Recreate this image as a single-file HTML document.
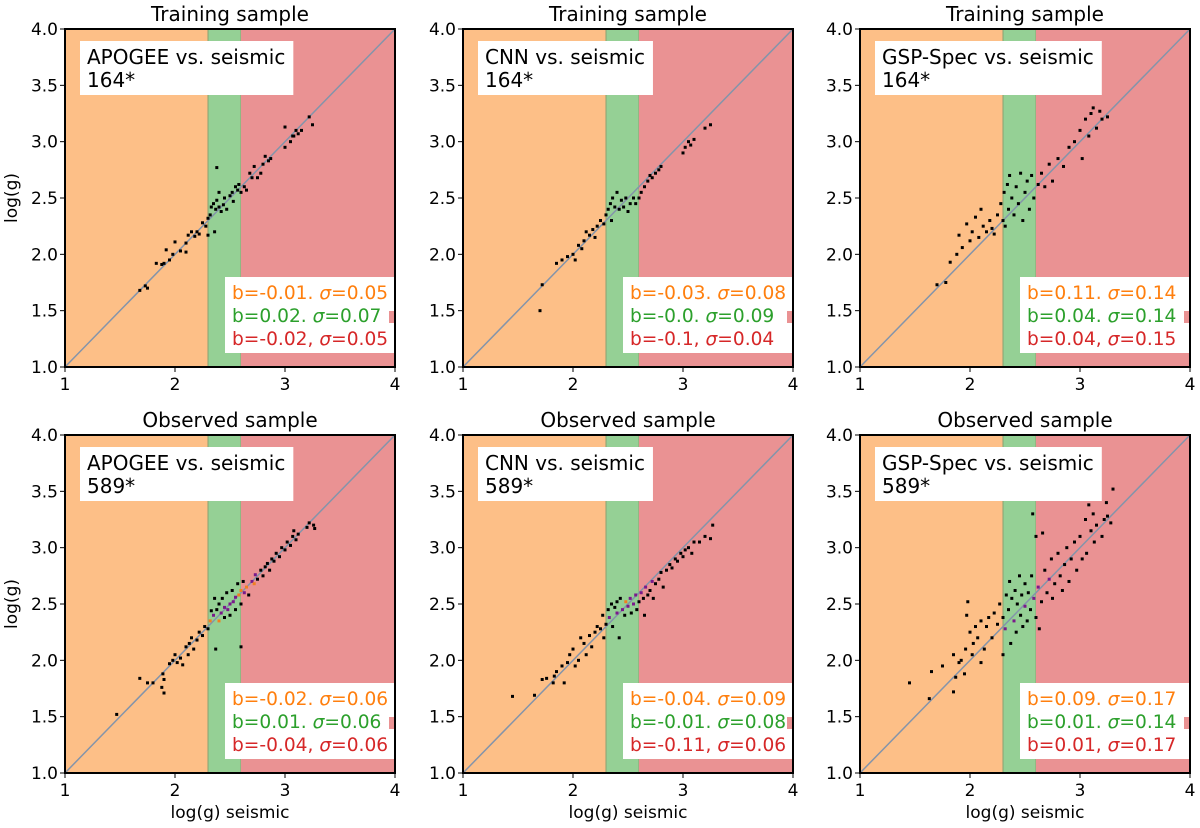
<!DOCTYPE html>
<html><head><meta charset="utf-8"><style>
html,body{margin:0;padding:0;background:#fff;}
svg{display:block;font-family:"DejaVu Sans","Liberation Sans",sans-serif;}
</style></head><body>
<svg id="fig" width="1200" height="828" viewBox="0 0 1200 828" xmlns="http://www.w3.org/2000/svg"></svg>
<script>
// ---- data ----
const panelTitles = ["Training sample","Training sample","Training sample","Observed sample","Observed sample","Observed sample"];
const methodLabels = ["APOGEE vs. seismic","CNN vs. seismic","GSP-Spec vs. seismic","APOGEE vs. seismic","CNN vs. seismic","GSP-Spec vs. seismic"];
const countLabels = ["164*","164*","164*","589*","589*","589*"];
const biasOrange = ["-0.01","-0.03","0.11","-0.02","-0.04","0.09"];
const sigmaOrange = ["0.05","0.08","0.14","0.06","0.09","0.17"];
const biasGreen = ["0.02","-0.0","0.04","0.01","-0.01","0.01"];
const sigmaGreen = ["0.07","0.09","0.14","0.06","0.08","0.14"];
const biasRed = ["-0.02","-0.1","0.04","-0.04","-0.11","0.01"];
const sigmaRed = ["0.05","0.04","0.15","0.06","0.06","0.17"];
const bandLow = 2.3, bandHigh = 2.6;
const xTicks = [1,2,3,4];
const yTicks = [1.0,1.5,2.0,2.5,3.0,3.5,4.0];

const trainApogee = [[1.68,1.68],[1.75,1.7],[1.73,1.72],[1.83,1.92],[1.88,1.91],[1.9,1.92],[1.92,2.04],[1.95,1.95],[1.98,2.0],[2.0,2.11],[2.05,2.03],[2.1,2.02],[2.1,2.1],[2.12,2.17],[2.15,2.2],[2.18,2.16],[2.2,2.2],[2.22,2.18],[2.25,2.28],[2.28,2.25],[2.3,2.17],[2.3,2.32],[2.32,2.35],[2.33,2.42],[2.35,2.45],[2.36,2.2],[2.37,2.4],[2.38,2.77],[2.38,2.48],[2.4,2.42],[2.4,2.55],[2.42,2.38],[2.44,2.44],[2.45,2.5],[2.47,2.4],[2.5,2.52],[2.52,2.55],[2.53,2.47],[2.55,2.6],[2.57,2.57],[2.58,2.62],[2.6,2.55],[2.63,2.6],[2.65,2.57],[2.68,2.72],[2.7,2.68],[2.72,2.78],[2.75,2.68],[2.78,2.72],[2.8,2.8],[2.82,2.87],[2.85,2.83],[2.87,2.85],[3.0,2.95],[3.0,3.13],[3.05,3.0],[3.07,3.05],[3.08,3.05],[3.1,3.1],[3.12,3.07],[3.15,3.1],[3.22,3.22],[3.25,3.15]];
const trainCnn = [[1.7,1.5],[1.72,1.73],[1.85,1.92],[1.9,1.95],[1.95,1.98],[2.0,2.0],[2.02,1.95],[2.05,2.08],[2.08,2.05],[2.1,2.12],[2.12,2.2],[2.15,2.17],[2.18,2.22],[2.2,2.15],[2.22,2.25],[2.25,2.3],[2.28,2.27],[2.3,2.35],[2.32,2.4],[2.34,2.45],[2.35,2.3],[2.36,2.5],[2.38,2.42],[2.4,2.55],[2.42,2.4],[2.44,2.48],[2.46,2.42],[2.48,2.5],[2.5,2.38],[2.52,2.45],[2.55,2.5],[2.57,2.45],[2.6,2.5],[2.62,2.55],[2.65,2.6],[2.68,2.65],[2.7,2.7],[2.72,2.68],[2.75,2.72],[2.78,2.75],[2.8,2.78],[3.0,2.9],[3.02,2.95],[3.05,3.0],[3.07,2.97],[3.1,3.02],[3.2,3.12],[3.25,3.15]];
const trainGsp = [[1.7,1.73],[1.78,1.75],[1.82,1.93],[1.88,2.0],[1.9,2.17],[1.93,2.06],[1.97,2.27],[2.0,2.12],[2.02,2.2],[2.05,2.33],[2.08,2.15],[2.1,2.4],[2.12,2.25],[2.15,2.2],[2.18,2.3],[2.2,2.23],[2.22,2.18],[2.25,2.35],[2.28,2.45],[2.3,2.3],[2.31,2.55],[2.32,2.25],[2.34,2.62],[2.35,2.4],[2.36,2.7],[2.38,2.5],[2.4,2.35],[2.42,2.6],[2.44,2.45],[2.46,2.72],[2.48,2.3],[2.5,2.55],[2.52,2.65],[2.54,2.4],[2.56,2.7],[2.58,2.5],[2.62,2.62],[2.65,2.72],[2.68,2.6],[2.72,2.8],[2.75,2.65],[2.8,2.85],[2.85,2.78],[2.9,2.95],[2.95,3.0],[3.0,3.1],[3.02,2.85],[3.05,3.2],[3.08,3.05],[3.1,3.25],[3.12,3.3],[3.15,3.12],[3.18,3.27],[3.2,3.2],[3.25,3.22]];
const obsApogee = [[1.47,1.52],[1.68,1.84],[1.75,1.8],[1.8,1.8],[1.88,1.76],[1.89,1.88],[1.9,1.71],[1.9,1.83],[1.95,1.97],[1.98,2.0],[2.0,2.05],[2.02,1.98],[2.05,2.02],[2.07,1.96],[2.1,2.12],[2.12,2.05],[2.13,2.15],[2.15,2.2],[2.17,2.1],[2.2,2.18],[2.22,2.25],[2.25,2.22],[2.27,2.3],[2.3,2.28],[2.32,2.35],[2.33,2.44],[2.35,2.4],[2.36,2.55],[2.37,2.1],[2.38,2.45],[2.4,2.35],[2.4,2.5],[2.42,2.42],[2.43,2.55],[2.45,2.38],[2.45,2.47],[2.47,2.6],[2.48,2.45],[2.5,2.5],[2.5,2.4],[2.52,2.62],[2.53,2.52],[2.55,2.45],[2.55,2.56],[2.57,2.68],[2.58,2.58],[2.6,2.5],[2.6,2.12],[2.6,2.62],[2.62,2.7],[2.63,2.6],[2.65,2.65],[2.67,2.58],[2.7,2.7],[2.72,2.68],[2.73,2.76],[2.75,2.72],[2.78,2.8],[2.8,2.75],[2.82,2.83],[2.84,2.86],[2.86,2.8],[2.88,2.9],[2.9,2.88],[2.92,2.95],[2.95,2.92],[2.97,3.0],[3.0,2.98],[3.02,3.05],[3.05,3.02],[3.07,3.1],[3.08,3.15],[3.1,3.07],[3.12,3.12],[3.2,3.18],[3.22,3.22],[3.26,3.2],[3.27,3.17]];
const obsCnn = [[1.45,1.68],[1.65,1.69],[1.72,1.83],[1.76,1.84],[1.82,1.8],[1.83,1.86],[1.85,1.9],[1.9,1.95],[1.92,1.8],[1.95,1.98],[1.97,2.05],[2.0,2.1],[2.02,1.95],[2.05,2.0],[2.07,2.2],[2.1,2.15],[2.12,2.05],[2.15,2.22],[2.17,2.12],[2.2,2.25],[2.22,2.3],[2.25,2.28],[2.27,2.4],[2.28,2.2],[2.3,2.32],[2.32,2.45],[2.33,2.38],[2.35,2.5],[2.36,2.3],[2.38,2.47],[2.4,2.52],[2.4,2.42],[2.42,2.2],[2.43,2.55],[2.45,2.45],[2.47,2.4],[2.48,2.52],[2.5,2.48],[2.52,2.55],[2.53,2.42],[2.55,2.5],[2.57,2.58],[2.58,2.45],[2.6,2.52],[2.62,2.6],[2.64,2.55],[2.65,2.4],[2.66,2.65],[2.68,2.58],[2.7,2.62],[2.72,2.7],[2.73,2.55],[2.75,2.68],[2.78,2.72],[2.8,2.78],[2.82,2.65],[2.85,2.8],[2.88,2.85],[2.9,2.82],[2.93,2.9],[2.95,2.88],[2.98,2.95],[3.0,2.92],[3.02,2.98],[3.05,3.0],[3.08,2.95],[3.1,3.05],[3.15,3.05],[3.2,3.1],[3.25,3.08],[3.27,3.2]];
const obsGsp = [[1.45,1.8],[1.63,1.66],[1.65,1.9],[1.75,1.95],[1.85,1.72],[1.85,2.05],[1.87,1.85],[1.9,1.98],[1.92,2.0],[1.95,1.88],[1.96,2.1],[1.97,2.4],[1.98,2.52],[2.0,2.25],[2.02,2.05],[2.03,2.15],[2.05,2.3],[2.07,2.2],[2.1,1.98],[2.1,2.35],[2.13,2.1],[2.15,2.3],[2.17,2.38],[2.2,2.2],[2.22,2.42],[2.25,2.32],[2.27,2.5],[2.3,2.38],[2.3,2.05],[2.32,2.28],[2.33,2.58],[2.35,2.45],[2.36,2.7],[2.37,2.15],[2.38,2.55],[2.4,2.35],[2.41,2.62],[2.42,2.25],[2.43,2.5],[2.45,2.75],[2.46,2.4],[2.47,2.58],[2.48,2.3],[2.5,2.68],[2.5,2.48],[2.52,2.35],[2.53,2.6],[2.55,2.45],[2.56,2.75],[2.57,3.3],[2.58,2.55],[2.6,2.38],[2.6,3.1],[2.62,2.65],[2.63,2.28],[2.65,2.52],[2.66,3.13],[2.68,2.8],[2.7,2.6],[2.72,2.72],[2.74,2.9],[2.75,2.55],[2.77,2.68],[2.8,2.95],[2.82,2.75],[2.84,2.62],[2.86,2.85],[2.88,3.0],[2.9,2.7],[2.92,2.9],[2.95,3.05],[2.97,2.8],[3.0,3.1],[3.02,2.9],[3.05,3.25],[3.06,2.95],[3.08,3.38],[3.1,3.15],[3.12,3.3],[3.13,3.05],[3.15,3.5],[3.15,3.2],[3.18,3.55],[3.2,3.1],[3.22,3.25],[3.24,3.4],[3.25,3.28],[3.28,3.22],[3.3,3.52]];
const panelPoints = [trainApogee,trainCnn,trainGsp,obsApogee,obsCnn,obsGsp];

// ---- layout ----
const NS="http://www.w3.org/2000/svg";
const svg=document.getElementById('fig');
const colL=[65,463,860], rowT=[29,435], PW=330, PH=338;
function mk(tag,attrs,parent){const e=document.createElementNS(NS,tag);for(const k in attrs)e.setAttribute(k,attrs[k]);(parent||svg).appendChild(e);return e;}

panelPoints.forEach((pts,i)=>{
  const L=colL[i%3], T=rowT[Math.floor(i/3)];
  const sx=v=>L+(v-1)*PW/3, sy=v=>T+(4-v)*PH/3;
  const g=mk('g',{});
  
  
  const r1=mk('rect',{x:sx(1),y:T,width:sx(bandLow)-sx(1),height:PH,fill:'#fdbf87'},g);
  
  
  const r2=mk('rect',{x:sx(bandLow),y:T,width:sx(bandHigh)-sx(bandLow),height:PH,fill:'#95d095',stroke:'#8aa070','stroke-width':1},g);
  
  
  const r3=mk('rect',{x:sx(bandHigh),y:T,width:sx(4)-sx(bandHigh),height:PH,fill:'#ea9293'},g);
  
  
  const ln=mk('line',{x1:sx(1),y1:sy(1),x2:sx(4),y2:sy(4),stroke:'#8494aa','stroke-width':1.5},g);
  
  
  pts.forEach((p,k)=>{
    const dense = i>=3 && p[0]>2.3 && p[0]<2.75 && Math.abs(p[1]-p[0])<0.06;
    const c = dense ? (k%3===0?'#f08020':'#7a1a8a') : '#000';
    const pt=mk('rect',{x:sx(p[0])-1.5,y:sy(p[1])-1.5,width:3,height:3,fill:c},g);
    
    
  });
  // top-left label box
  const tb=mk('rect',{x:L+15,y:T+12,width:100,height:54,fill:'#fff'},g);
  
  
  const t1=mk('text',{x:L+22,y:T+35,'font-size':20,fill:'#000'},g);t1.textContent=methodLabels[i];
  
  
  const t2=mk('text',{x:L+22,y:T+58,'font-size':20,fill:'#000'},g);t2.textContent=countLabels[i];
  
  
  tb.setAttribute('width',t1.getComputedTextLength()+15);
  // stats box
  const sb=mk('rect',{x:L+160,y:T+248,width:PW-160,height:76,fill:'#fff'},g);
  
  
  const mark=mk('rect',{x:L+PW-6,y:T+282,width:6,height:12,fill:'#ea9293'},g);
  
  
  const lines=[['#ff7f0e',biasOrange[i],sigmaOrange[i],'.'],['#2ca02c',biasGreen[i],sigmaGreen[i],'.'],['#d62728',biasRed[i],sigmaRed[i],',']];
  lines.forEach((s,j)=>{
    const t=mk('text',{x:L+167,y:T+270+j*23,'font-size':18.6,fill:s[0]},g);
    t.innerHTML='b='+s[1]+s[3]+' <tspan font-style="italic">σ</tspan>='+s[2];
    
    
  });
  // frame
  const fr=mk('rect',{x:L,y:T,width:PW,height:PH,fill:'none',stroke:'#000','stroke-width':2},g);
  
  
  // ticks
  xTicks.forEach(v=>{
    mk('line',{x1:sx(v),y1:T+PH,x2:sx(v),y2:T+PH+5,stroke:'#000','stroke-width':1},g);
    const t=mk('text',{x:sx(v),y:T+PH+23,'font-size':17,'text-anchor':'middle'},g);t.textContent=v;
    
    
  });
  yTicks.forEach(v=>{
    mk('line',{x1:L-5,y1:sy(v),x2:L,y2:sy(v),stroke:'#000','stroke-width':1},g);
    const t=mk('text',{x:L-7,y:sy(v)+6,'font-size':17,'text-anchor':'end'},g);t.textContent=v.toFixed(1);
    
    
  });
  const tt=mk('text',{x:L+PW/2,y:T-8,'font-size':20,'text-anchor':'middle'},g);tt.textContent=panelTitles[i];
  
  
  if(i%3===0){
    const yl=mk('text',{x:0,y:0,'font-size':17,'text-anchor':'middle',transform:`translate(17,${T+PH/2}) rotate(-90)`},g);yl.textContent='log(g)';
    
    
  }
  if(i>=3){
    const xl=mk('text',{x:L+PW/2,y:T+PH+45,'font-size':17,'text-anchor':'middle'},g);xl.textContent='log(g) seismic';
    
    
  }
});
</script>
</body></html>
